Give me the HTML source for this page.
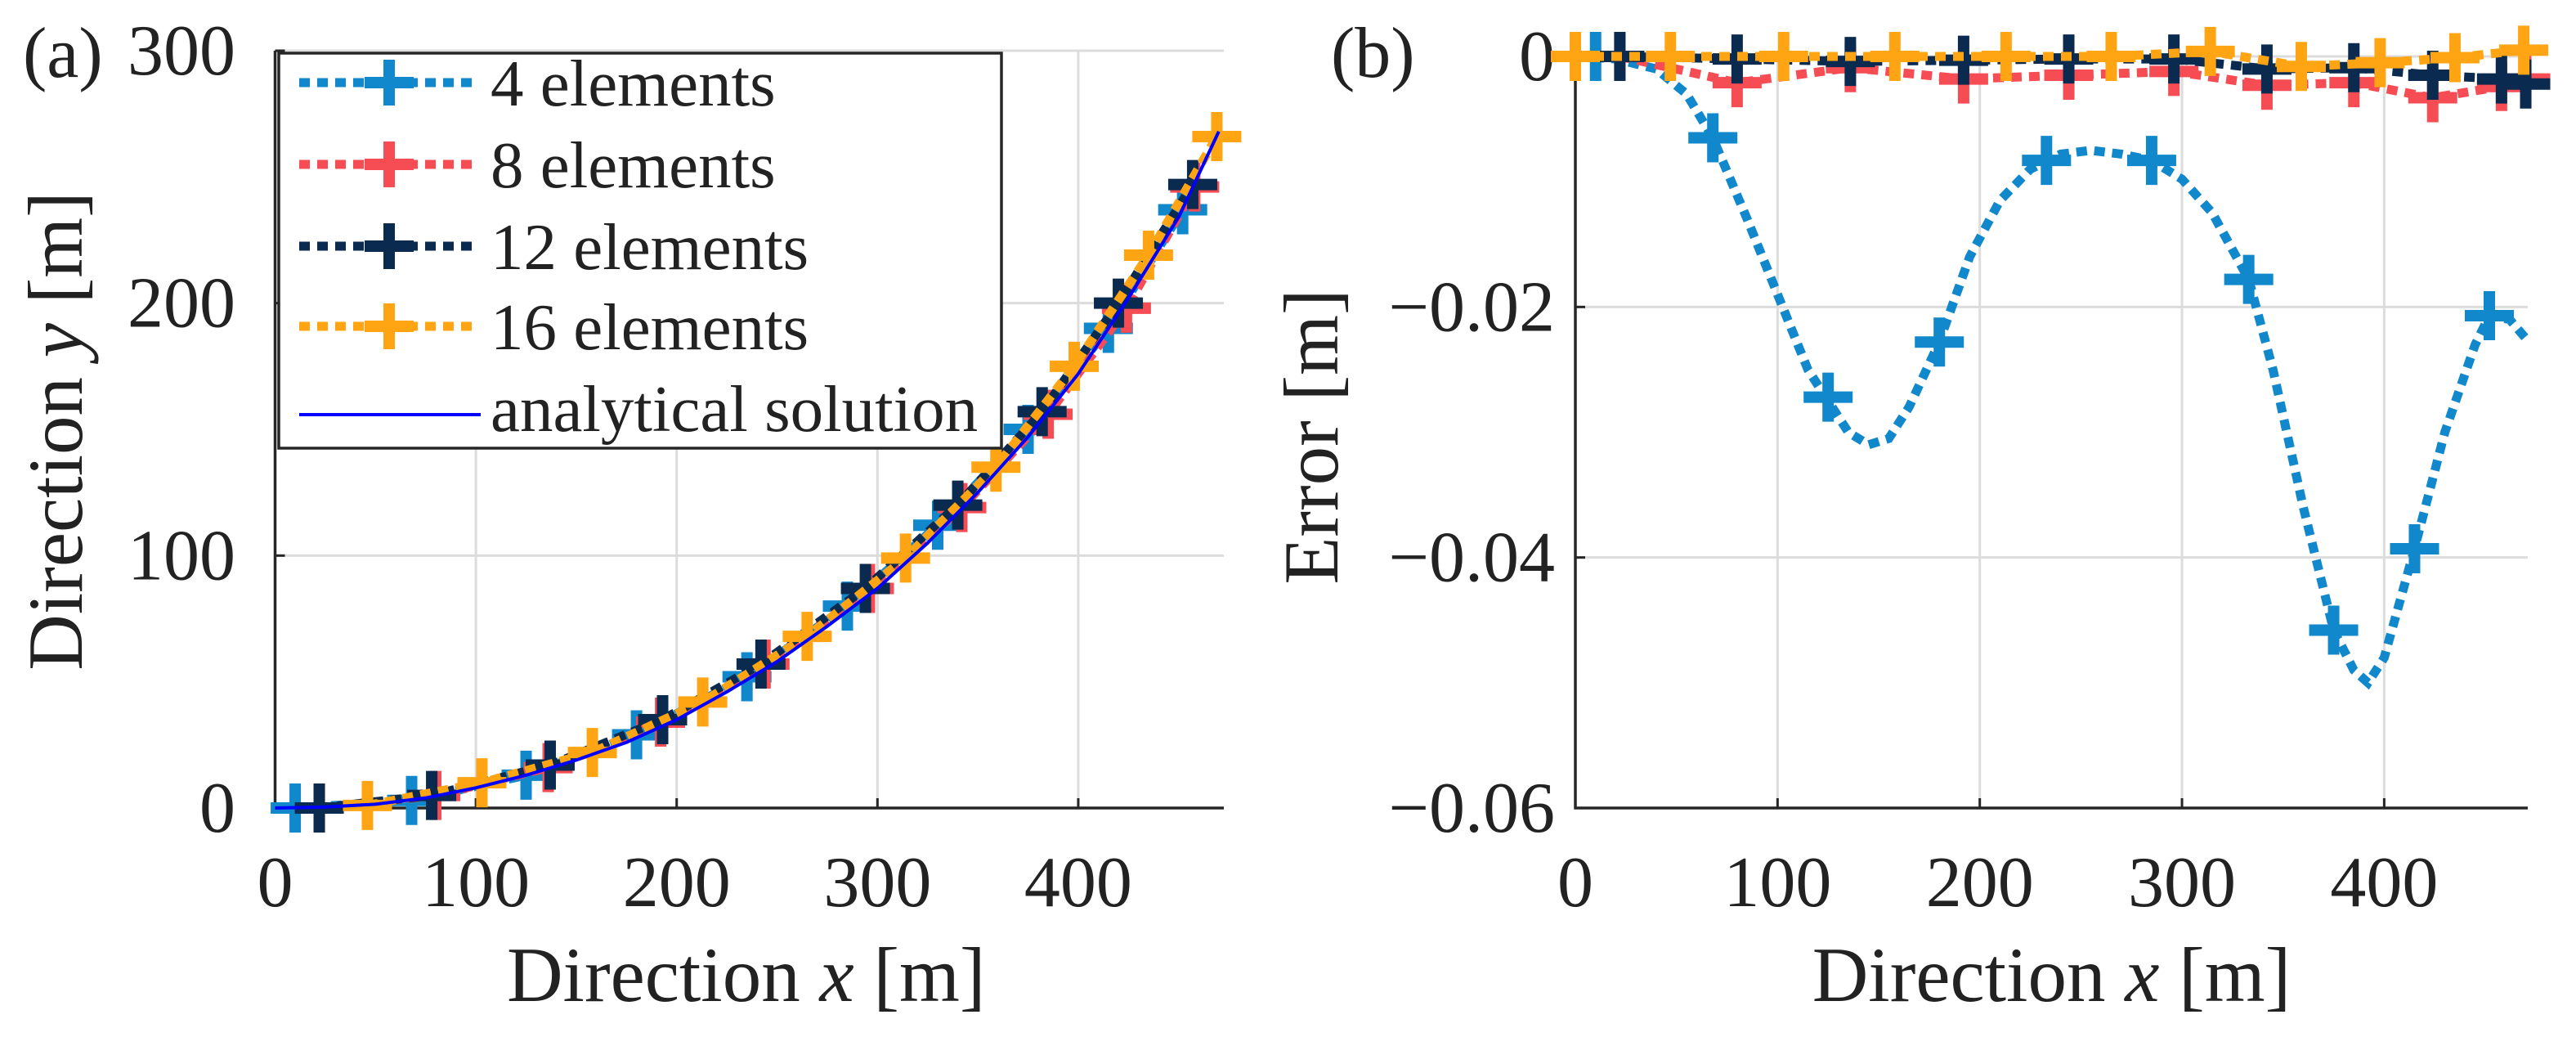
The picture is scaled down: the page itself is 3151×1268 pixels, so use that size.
<!DOCTYPE html>
<html><head><meta charset="utf-8"><style>
html,body{margin:0;padding:0;background:#fff;}
svg{display:block;}
svg text{font-family:"Liberation Serif","Times New Roman","DejaVu Serif",serif;fill:#222;}
</style></head><body>
<svg id="fig" width="3151" height="1268" viewBox="0 0 3151 1268" xmlns="http://www.w3.org/2000/svg" font-family="Liberation Serif, serif">
<g id="pa"></g>
<g id="pb"></g>
</svg>
<script>
// ---- data panel (a) ----
const xTicks = [0,100,200,300,400];
const yTicksA = [0,100,200,300];
const yTicksB = [0,-0.02,-0.04,-0.06];
const yTickLabelsB = ["0","\u22120.02","\u22120.04","\u22120.06"];
const analyticX = [0,25,50,75,100,125,150,175,200,225,250,275,300,325,350,375,400,425,450,470];
const analyticY = [0,0.4,1.5,4,8,13,19,26,35,46,58,72,87,105,125,147,172,202,234,268];
const e4X = [10,68,125,180,235,285,330,375,415,452];
const e4Y = [0,3,13,29,52,80,112,150,190,237];
const e12X = [22,78,137,193,242,294,340,382,420,457];
const e12Y = [0,5,17,35,57,87,120,157,200,247];
const e16X = [46,103,158,213,265,314,359,398,435,469];
const e16Y = [1,10,22,42,68,99,135,175,219,266];
const e8X = [22,80,136,192,244,296,342,385,424,458];
const e8Y = [0,5,16,34,57,87,119,156,198,246];
// ---- data panel (b) ----
const b4X = [10,68,125,180,233,285,333,375,415,452];
const b4Y = [0,-0.0065,-0.0272,-0.0228,-0.0083,-0.0083,-0.0178,-0.0458,-0.0393,-0.0207];
const b4LineX = [0,20,40,55,68,85,100,115,125,135,145,155,165,180,195,210,225,240,255,270,285,300,315,333,345,360,375,385,392,400,415,430,445,452,462,470];
const b4LineY = [0,-0.0002,-0.001,-0.003,-0.0065,-0.013,-0.019,-0.025,-0.0275,-0.030,-0.031,-0.0305,-0.028,-0.0228,-0.016,-0.0115,-0.009,-0.0078,-0.0075,-0.0078,-0.0083,-0.0098,-0.0125,-0.0178,-0.025,-0.036,-0.0458,-0.049,-0.050,-0.048,-0.0393,-0.030,-0.023,-0.0207,-0.021,-0.0225];
const b8X = [22,80,136,192,244,296,342,385,424,458,470];
const b8Y = [0,-0.0021,-0.0009,-0.0018,-0.0015,-0.0012,-0.0023,-0.0021,-0.0033,-0.0024,-0.0018];
const b12X = [22,80,136,192,244,296,342,385,424,458,470];
const b12Y = [0,-0.0002,-0.0004,-0.0003,-0.0002,-0.0002,-0.0010,-0.0009,-0.0015,-0.0018,-0.0022];
const b16X = [0,47,103,158,213,265,314,359,398,435,469];
const b16Y = [0,0,0,0,0,0,0.0004,-0.0008,-0.0005,-0.0001,0.0005];

const NS="http://www.w3.org/2000/svg";
const FF='Liberation Serif, Times New Roman, serif';
const C4="#1187cc",C8="#f64c53",C12="#0b2a4f",C16="#ffa514";
function mk(parent,tag,attrs){const e=document.createElementNS(NS,tag);for(const k in attrs)e.setAttribute(k,attrs[k]);if(tag==='text')e.setAttribute('font-family',FF);parent.appendChild(e);return e;}

const A={x0:336.5,x1:1497,y0:988,y1:62,xmin:0,xmax:472.5,ymin:0,ymax:300};
const B={x0:1927,x1:3092,y0:988,y1:69,xmin:0,xmax:471,ymin:-0.06,ymax:0};
function sx(ax,v){return ax.x0+(v-ax.xmin)/(ax.xmax-ax.xmin)*(ax.x1-ax.x0);}
function sy(ax,v){return ax.y0-(v-ax.ymin)/(ax.ymax-ax.ymin)*(ax.y0-ax.y1);}

function drawAxes(g,ax,yt,ylabels,letter,ylab,ylx,lettx,tickLblX){
  for(const v of xTicks){ if(v===0)continue;
    const l=mk(g,'line',{x1:sx(ax,v),x2:sx(ax,v),y1:ax.y0,y2:ax.y1,stroke:'#dcdcdc','stroke-width':3});
    
    
  }
  yt.forEach(v=>{ if(v===ax.ymin)return;
    const l=mk(g,'line',{x1:ax.x0,x2:ax.x1,y1:sy(ax,v),y2:sy(ax,v),stroke:'#dcdcdc','stroke-width':3});
    
    
  });
  const yl=mk(g,'line',{x1:ax.x0,x2:ax.x0,y1:ax.y0+1.5,y2:ax.y1,stroke:'#262626','stroke-width':3.5});
  
  
  const xl=mk(g,'line',{x1:ax.x0-1.5,x2:ax.x1,y1:ax.y0,y2:ax.y0,stroke:'#262626','stroke-width':3.5});
  
  
  for(const v of xTicks){
    mk(g,'line',{x1:sx(ax,v),x2:sx(ax,v),y1:ax.y0,y2:ax.y0-12,stroke:'#262626','stroke-width':3});
    const t=mk(g,'text',{x:sx(ax,v),y:1108,'font-size':88,'text-anchor':'middle'});
    t.textContent=String(v);
    
    
  }
  yt.forEach((v,i)=>{
    mk(g,'line',{x1:ax.x0,x2:ax.x0+12,y1:sy(ax,v),y2:sy(ax,v),stroke:'#262626','stroke-width':3});
    const t=mk(g,'text',{x:tickLblX,y:sy(ax,v)+29,'font-size':88,'text-anchor':'end'});
    t.textContent=ylabels[i];
    
    
  });
  const xt=mk(g,'text',{x:(ax.x0+ax.x1)/2+ (ax===A?-4:0),y:1224,'font-size':95,'text-anchor':'middle'});
  xt.innerHTML='Direction <tspan font-style="italic">x</tspan> [m]';
  
  
  const ytl=mk(g,'text',{x:0,y:0,'font-size':95,'text-anchor':'middle',transform:`translate(${ylx},${ax===A?527:534}) rotate(-90)`});
  ytl.innerHTML=ylab;
  
  
  const lt=mk(g,'text',{x:lettx,y:94,'font-size':88});
  lt.textContent=letter;
  
  
}
function series(g,ax,xs,ys,color,name,lx,ly){
  const lxs=lx||xs, lys=ly||ys;
  const pts=lxs.map((x,i)=>sx(ax,x)+','+sy(ax,lys[i])).join(' ');
  const pl=mk(g,'polyline',{points:pts,fill:'none',stroke:color,'stroke-width':11,'stroke-dasharray':'13 9'});
  
  
  xs.forEach((x,i)=>{
    const cx=sx(ax,x),cy=sy(ax,ys[i]);
    const p=mk(g,'path',{d:`M${cx-30},${cy}H${cx+30}M${cx},${cy-30}V${cy+30}`,stroke:color,'stroke-width':14,fill:'none'});
    
    
  });
}
const ga=document.getElementById('pa'), gb=document.getElementById('pb');
drawAxes(ga,A,yTicksA,yTicksA.map(String),'(a)','Direction <tspan font-style="italic">y</tspan> [m]',100,28,288);
drawAxes(gb,B,yTicksB,yTickLabelsB,'(b)','Error [m]',1636,1628,1902);

series(ga,A,e4X,e4Y,C4,'4-elements');
series(ga,A,e8X,e8Y,C8,'8-elements');
series(ga,A,e12X,e12Y,C12,'12-elements');
series(ga,A,e16X,e16Y,C16,'16-elements');
const an=mk(ga,'polyline',{points:analyticX.map((x,i)=>sx(A,x)+','+sy(A,analyticY[i])).join(' '),fill:'none',stroke:'#0000ff','stroke-width':4});



series(gb,B,b4X,b4Y,C4,'4-elements',b4LineX,b4LineY);
series(gb,B,b8X,b8Y,C8,'8-elements');
series(gb,B,b12X,b12Y,C12,'12-elements');
series(gb,B,b16X,b16Y,C16,'16-elements');

const lg=mk(ga,'g',{});


mk(lg,'rect',{x:341,y:65,width:884,height:483,fill:'#fff',stroke:'#262626','stroke-width':3.5});
const legNames=['4 elements','8 elements','12 elements','16 elements','analytical solution'];
const legColors=[C4,C8,C12,C16,'#0000ff'];
const legY=[101,201,301,399,499];
legNames.forEach((n,i)=>{
  const y=legY[i];
  const e=mk(lg,'g',{});
  
  
  if(i<4){
    mk(e,'line',{x1:366,x2:578,y1:y,y2:y,stroke:legColors[i],'stroke-width':11,'stroke-dasharray':'13 9'});
    mk(e,'path',{d:`M${446},${y}H${506}M${476},${y-28}V${y+28}`,stroke:legColors[i],'stroke-width':14,fill:'none'});
  } else {
    mk(e,'line',{x1:366,x2:588,y1:y+8,y2:y+8,stroke:'#0000ff','stroke-width':4});
  }
  const t=mk(e,'text',{x:600,y:y+28,'font-size':81});
  t.textContent=n;
});
</script>
</body></html>
